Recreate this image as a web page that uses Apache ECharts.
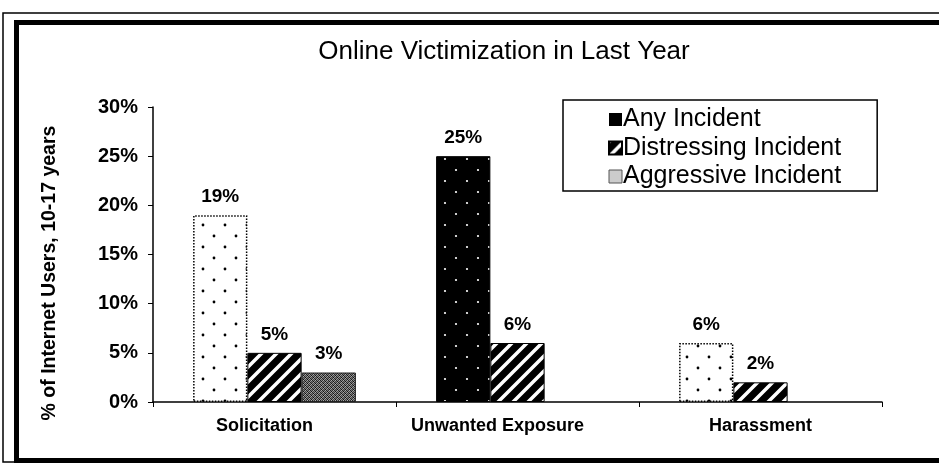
<!DOCTYPE html>
<html>
<head>
<meta charset="utf-8">
<script src="https://cdn.jsdelivr.net/npm/echarts@6/dist/echarts.min.js"></script>
<style>
html,body{margin:0;padding:0;background:#fff;}
#chart{width:939px;height:463px;}
</style>
</head>
<body>
<div id="chart"></div>
<script>
var categories = ['Solicitation', 'Unwanted Exposure', 'Harassment'];
var anyIncident = [19, 25, 6];
var distressing = [5, 6, 2];
var aggressive = [3, null, null];
var yTicks = [0, 5, 10, 15, 20, 25, 30];

// little canvas tiles used as bar fills
function tile(w, h, draw){
    var c = document.createElement('canvas');
    c.width = w; c.height = h;
    draw(c.getContext('2d'), w, h);
    return {image: c, repeat: 'repeat'};
}
function dots(bg, fg, r){
    return tile(22, 22, function(ctx, w, h){
        ctx.fillStyle = bg; ctx.fillRect(0, 0, w, h);
        ctx.fillStyle = fg;
        ctx.beginPath(); ctx.arc(5, 5, r, 0, Math.PI*2); ctx.fill();
        ctx.beginPath(); ctx.arc(16, 16, r, 0, Math.PI*2); ctx.fill();
    });
}
var whiteDots = dots('#fff', '#000', 1.4);
var blackDots = dots('#000', '#fff', 1.1);
var stripes = tile(15, 15, function(ctx, w, h){
    ctx.fillStyle = '#000'; ctx.fillRect(0, 0, w, h);
    ctx.strokeStyle = '#fff'; ctx.lineWidth = 3.5;
    ctx.beginPath();
    ctx.moveTo(-w, 2*h); ctx.lineTo(2*w, -h);
    ctx.moveTo(-2*w, 2*h); ctx.lineTo(w, -h);
    ctx.moveTo(0, 2*h); ctx.lineTo(3*w, -h);
    ctx.stroke();
});
var speckle = tile(4, 4, function(ctx){
    var px = ['#222','#888','#333','#aaa','#777','#111','#999','#444',
              '#333','#aaa','#222','#777','#999','#444','#888','#111'];
    for(var i=0;i<16;i++){ ctx.fillStyle = px[i]; ctx.fillRect(i%4, Math.floor(i/4), 1, 1); }
});

var font = 'Liberation Sans, Arial, sans-serif';

function anyData(){
    var out = [];
    for(var i=0;i<anyIncident.length;i++){
        if(i == 1){
            out.push({value: anyIncident[i], itemStyle:{color: blackDots, borderColor:'#000', borderWidth:1}});
        } else {
            out.push({value: anyIncident[i], itemStyle:{color: whiteDots, borderColor:'#000', borderWidth:1.5, borderType:'dotted'}});
        }
    }
    return out;
}

// the original labels sit a bit left of the category centres
var labelShift = [20, 40, 0];
var catData = categories.map(function(c, i){
    return {value: c, textStyle: {padding: [0, labelShift[i], 0, 0]}};
});

var label = {
    show: true,
    position: 'top',
    distance: 9,
    formatter: function(p){ return p.value == null ? '' : p.value + '%'; },
    fontFamily: font, fontWeight: 'bold', fontSize: 19, color: '#000'
};

var chart = echarts.init(document.getElementById('chart'));
var option = {
    animation: false,
    backgroundColor: '#fff',
    title: {
        text: 'Online Victimization in Last Year',
        left: 499, top: 34, textAlign: 'center',
        textStyle: {fontFamily: font, fontWeight: 'normal', fontSize: 26, color: '#000'}
    },
    graphic: [
        {type:'rect', shape:{x:3, y:13, width:1000, height:449}, style:{fill:null, stroke:'#000', lineWidth:1.5}, silent:true},
        {type:'rect', shape:{x:16.5, y:22.5, width:1000, height:438}, style:{fill:null, stroke:'#000', lineWidth:5}, silent:true},
        {type:'text', x:50, y:273, rotation:Math.PI/2, silent:true,
         style:{text:'% of Internet Users, 10-17 years', fontFamily:font, fontWeight:'bold', fontSize:19.5, fill:'#000', align:'center', verticalAlign:'middle'}}
    ],
    legend: {
        orient: 'vertical',
        left: 563, top: 100,
        padding: [7, 36, 2, 45],
        itemGap: 3.5,
        itemWidth: 13, itemHeight: 13,
        borderColor: '#000', borderWidth: 1.5,
        textStyle: {fontFamily: font, fontSize: 25, lineHeight: 25, color: '#000', padding:[0,0,0,-4]},
        data: [
            {name:'Any Incident', icon:'rect', itemStyle:{color:'#000'}},
            {name:'Distressing Incident', icon:'rect', itemStyle:{color: stripes}},
            {name:'Aggressive Incident', icon:'rect', itemStyle:{color:'#ccc', borderColor:'#555', borderWidth:1}}
        ]
    },
    grid: {left: 153, right: 57, top: 107, bottom: 61},
    xAxis: {
        type: 'category',
        data: catData,
        axisLine: {lineStyle:{color:'#000', width:1.5}},
        axisTick: {show:true, inside:false, length:5, lineStyle:{color:'#000'}},
        axisLabel: {fontFamily: font, fontWeight:'bold', fontSize:18, color:'#000', margin:15}
    },
    yAxis: {
        type: 'value',
        min: 0, max: 30, interval: 5,
        axisLine: {show:true, lineStyle:{color:'#000', width:1.5}},
        axisTick: {show:true, length:5, lineStyle:{color:'#000'}},
        splitLine: {show:false},
        axisLabel: {
            fontFamily: font, fontWeight:'bold', fontSize:20, color:'#000', margin:15,
            formatter: function(v){ return yTicks.indexOf(v) >= 0 ? v + '%' : ''; }
        }
    },
    series: [
        {name:'Any Incident', type:'bar', data: anyData(), barGap:'0%', barCategoryGap:'33%', label: label,
         itemStyle:{color: blackDots}},
        {name:'Distressing Incident', type:'bar', data: distressing, label: label,
         itemStyle:{color: stripes, borderColor:'#000', borderWidth:1}},
        {name:'Aggressive Incident', type:'bar', data: aggressive, label: label,
         itemStyle:{color: speckle, borderColor:'#222', borderWidth:1}}
    ]
};
chart.setOption(option);
</script>
</body>
</html>
